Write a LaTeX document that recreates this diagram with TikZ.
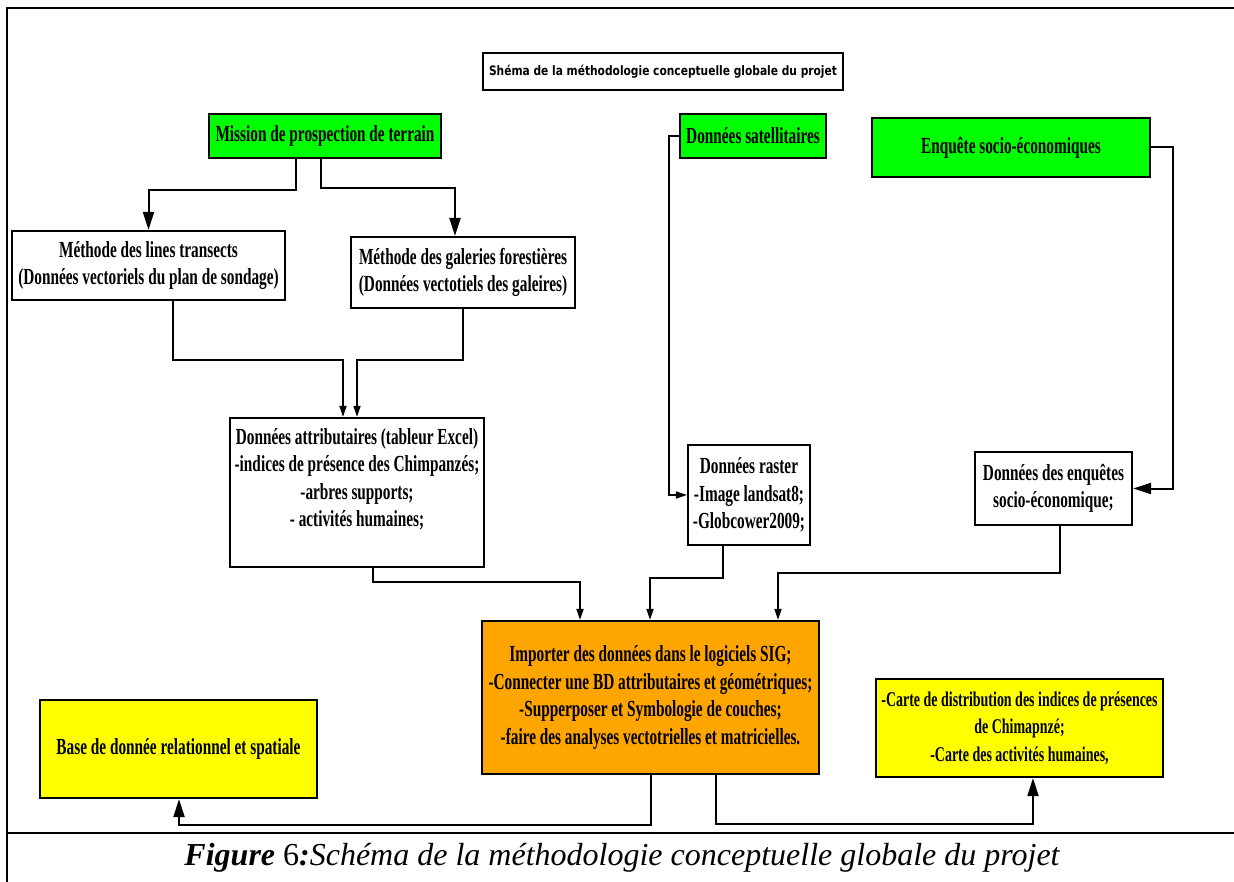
\documentclass[tikz,border=0pt]{standalone}
\usepackage{fontspec}
\setmainfont{Liberation Serif}
\newfontfamily\cond[FakeStretch=0.665]{Liberation Serif}
\newfontfamily\titlef[FakeStretch=0.82]{DejaVu Sans}
\usetikzlibrary{arrows.meta}
\definecolor{gfill}{RGB}{0,255,0}
\definecolor{yfill}{RGB}{255,255,0}
\definecolor{ofill}{RGB}{255,165,0}
\tikzset{
  box/.style={draw=black, line width=2.2pt, inner sep=0pt, align=center,
    font=\cond\bfseries\fontsize{23}{27.5}\selectfont},
  conn/.style={draw=black, line width=2pt},
  thin/.style={draw=black, line width=1.6pt},
  bigtip/.style={-{Triangle[width=11pt,length=18pt]}},
  smalltip/.style={-{Triangle[width=7pt,length=11pt]}},
}
\begin{document}
\begin{tikzpicture}[x=1pt,y=-1pt]
\useasboundingbox (0,0) rectangle (1234,882);
\fill[white] (0,0) rectangle (1234,882);
% frame
\draw[line width=1.8pt] (1234,8) -- (7,8) -- (7,882);
\draw[line width=1.8pt] (7,833) -- (1234,833);

% title
\node[draw=black, line width=1.8pt, minimum width=360, minimum height=37, inner sep=0pt,
  font=\titlef\bfseries\fontsize{13}{16}\selectfont] (title) at (663,71.5)
  {Shéma de la méthodologie conceptuelle globale du projet};

% top boxes
\node[box, fill=gfill, minimum width=232, minimum height=44] (mission) at (325,136)
  {Mission de prospection de terrain};
\node[box, fill=gfill, minimum width=146, minimum height=44] (sat) at (753,136)
  {Données satellitaires};
\node[box, fill=gfill, minimum width=278, minimum height=59] (enq) at (1011,147.5)
  {Enquête socio-économiques};

\node[box, minimum width=273, minimum height=69] (lt) at (148.5,265.5)
  {Méthode des lines transects\\(Données vectoriels du plan de sondage)};
\node[box, minimum width=224, minimum height=71] (gal) at (463,272.5)
  {Méthode des galeries forestières\\(Données vectotiels des galeires)};

\node[box, minimum width=254, minimum height=149] (attr) at (357,492.5) {};
\node[box, draw=none, yshift=13] (attrtxt) at (attr.center)
  {Données attributaires (tableur Excel)\\-indices de présence des Chimpanzés;\\-arbres supports;\\- activités humaines;};

\node[box, minimum width=122, minimum height=100] (raster) at (749,495)
  {Données raster\\-Image landsat8;\\-Globcower2009;};
\node[box, minimum width=157, minimum height=73] (enqd) at (1053.5,488.5)
  {Données des enquêtes\\socio-économique;};

\node[box, fill=ofill, minimum width=337, minimum height=153] (imp) at (650.5,697.5)
  {Importer des données dans le logiciels SIG;\\-Connecter une BD attributaires et géométriques;\\-Supperposer et Symbologie de couches;\\-faire des analyses vectotrielles et matricielles.};

\node[box, fill=yfill, minimum width=277, minimum height=98] (base) at (178.5,749)
  {Base de donnée relationnel et spatiale};
\node[box, fill=yfill, minimum width=287, minimum height=98,
  font=\cond\bfseries\fontsize{21}{27.5}\selectfont] (carte) at (1019.5,728)
  {-Carte de distribution des indices de présences\\de Chimapnzé;\\-Carte des activités humaines,};

% connectors
\draw[conn, bigtip] (296,0 |- mission.south) -- (296,190) -| (lt.north);
\draw[conn, bigtip] (321,0 |- mission.south) -- (321,188) -| (455,0 |- gal.north);
\draw[thin, smalltip] (173,0 |- lt.south) -- (173,360) -| (343,0 |- attr.north);
\draw[thin, smalltip] (463,0 |- gal.south) -- (463,360) -| (357,0 |- attr.north);
\draw[thin, smalltip] (sat.west) -- (669,136) |- (raster.west);
\draw[conn, bigtip] (enq.east) -- (1173,147.5) |- (enqd.east);
\draw[thin, smalltip] (373,0 |- attr.south) -- (373,582) -| (580,0 |- imp.north);
\draw[thin, smalltip] (723,0 |- raster.south) -- (723,578) -| (650,0 |- imp.north);
\draw[thin, smalltip] (1060,0 |- enqd.south) -- (1060,573) -| (778,0 |- imp.north);
\draw[conn, bigtip] (651,0 |- imp.south) -- (651,825) -| (179,0 |- base.south);
\draw[conn, bigtip] (716,0 |- imp.south) -- (716,824) -| (1033,0 |- carte.south);

% caption
\node[inner sep=0pt, font=\fontsize{32}{36}\selectfont] (caption) at (622,858)
  {{\bfseries\itshape Figure} 6{\bfseries\itshape :}{\itshape Schéma de la méthodologie conceptuelle globale du projet}};
\end{tikzpicture}
\end{document}
